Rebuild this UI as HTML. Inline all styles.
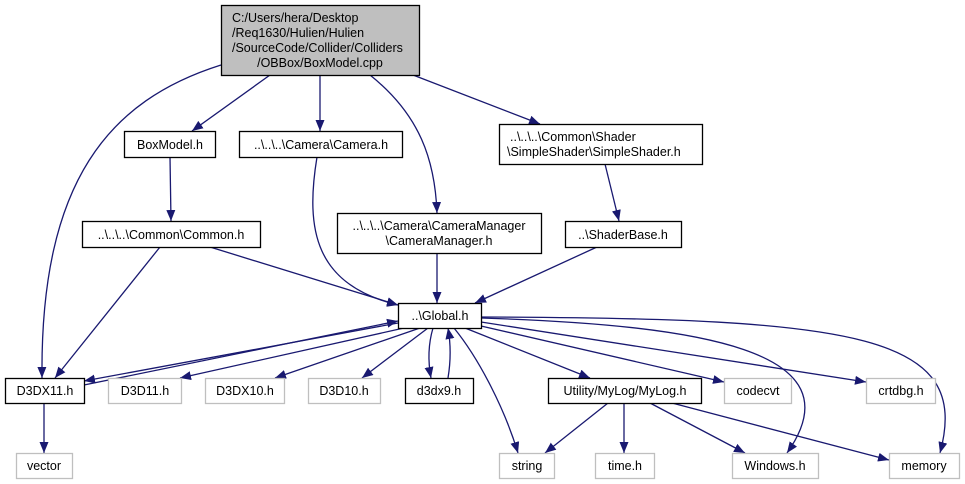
<!DOCTYPE html>
<html><head><meta charset="utf-8"><style>
body{margin:0;background:#fff}
svg{display:block}
text{font-family:"Liberation Sans",Arial,sans-serif;font-size:12.5px;fill:#000}
</style></head><body>
<svg width="965" height="484" viewBox="0 0 965 484" xmlns="http://www.w3.org/2000/svg">
<defs><marker id="a" markerUnits="userSpaceOnUse" markerWidth="12" markerHeight="10" refX="11" refY="4.5" orient="auto"><path d="M0,0 L11,4.5 L0,9 z" fill="#191970"/></marker></defs>
<g fill="none" stroke="#191970" stroke-width="1.3" marker-end="url(#a)">
<path d="M221,65 C110,100 40,180 42,378"/>
<path d="M270,75 L192,131"/>
<path d="M320,75 L320,131"/>
<path d="M370,75 C420,115 435,160 437,213"/>
<path d="M413,75 L540,124"/>
<path d="M170,157 L171,221"/>
<path d="M160,247 L55,378"/>
<path d="M210,247 L398,305"/>
<path d="M317,157 C305,230 315,285 398,305"/>
<path d="M437,254 L437,303"/>
<path d="M605,164 L619,221"/>
<path d="M597,247 L475,303"/>
<path d="M398,323 L84,381"/>
<path d="M84,385 L398,321"/>
<path d="M404,328 L180,378"/>
<path d="M420,328 L275,378"/>
<path d="M428,328 L362,378"/>
<path d="M433,328 C428,345 428,362 431,378"/>
<path d="M448,378 C451,360 451,345 448,328"/>
<path d="M454,328 C480,360 505,410 518,453"/>
<path d="M465,328 L590,378"/>
<path d="M481,326 L724,382"/>
<path d="M481,322 L866,382"/>
<path d="M481,318 C700,325 860,350 787,453"/>
<path d="M481,317 C860,318 972,335 940,453"/>
<path d="M44,403 L44,453"/>
<path d="M608,403 L545,453"/>
<path d="M624,403 L624,453"/>
<path d="M650,403 L745,453"/>
<path d="M672,403 L889,460"/>
</g>
<g stroke-width="1.3">
<rect x="221.5" y="5.5" width="198" height="70" fill="#bfbfbf" stroke="#000"/>
<g fill="#fff" stroke="#000">
<rect x="124.5" y="131.5" width="91" height="26"/>
<rect x="239.5" y="131.5" width="163" height="26"/>
<rect x="499.5" y="124.5" width="203" height="40"/>
<rect x="337.5" y="213.5" width="204" height="40"/>
<rect x="82.5" y="221.5" width="178" height="26"/>
<rect x="565.5" y="221.5" width="116" height="26"/>
<rect x="398.5" y="303.5" width="83" height="25"/>
<rect x="5.5" y="378.5" width="79" height="25"/>
<rect x="405.5" y="378.5" width="68" height="25"/>
<rect x="548.5" y="378.5" width="153" height="25"/>
</g>
<g fill="#fff" stroke="#bfbfbf">
<rect x="108.5" y="378.5" width="73" height="25"/>
<rect x="205.5" y="378.5" width="79" height="25"/>
<rect x="308.5" y="378.5" width="72" height="25"/>
<rect x="724.5" y="378.5" width="67" height="25"/>
<rect x="866.5" y="378.5" width="69" height="25"/>
<rect x="16.5" y="453.5" width="56" height="25"/>
<rect x="499.5" y="453.5" width="55" height="25"/>
<rect x="595.5" y="453.5" width="59" height="25"/>
<rect x="732.5" y="453.5" width="86" height="25"/>
<rect x="889.5" y="453.5" width="70" height="25"/>
</g>
</g>
<g>
<text x="232" y="22">C:/Users/hera/Desktop</text>
<text x="232" y="37">/Req1630/Hulien/Hulien</text>
<text x="232" y="52">/SourceCode/Collider/Colliders</text>
<text x="320" y="67" text-anchor="middle">/OBBox/BoxModel.cpp</text>
<g text-anchor="middle">
<text x="170" y="149">BoxModel.h</text>
<text x="321" y="149">..\..\..\Camera\Camera.h</text>
<text x="171" y="239">..\..\..\Common\Common.h</text>
<text x="623" y="239">..\ShaderBase.h</text>
<text x="440" y="320">..\Global.h</text>
<text x="45" y="395">D3DX11.h</text>
<text x="145" y="395">D3D11.h</text>
<text x="245" y="395">D3DX10.h</text>
<text x="344" y="395">D3D10.h</text>
<text x="439" y="395">d3dx9.h</text>
<text x="625" y="395">Utility/MyLog/MyLog.h</text>
<text x="758" y="395">codecvt</text>
<text x="901" y="395">crtdbg.h</text>
<text x="44" y="470">vector</text>
<text x="527" y="470">string</text>
<text x="625" y="470">time.h</text>
<text x="775" y="470">Windows.h</text>
<text x="924" y="470">memory</text>
<text x="439" y="230">..\..\..\Camera\CameraManager</text>
<text x="439" y="245">\CameraManager.h</text>
</g>
<text x="510" y="141">..\..\..\Common\Shader</text>
<text x="507" y="156">\SimpleShader\SimpleShader.h</text>
</g>
</svg>
</body></html>
